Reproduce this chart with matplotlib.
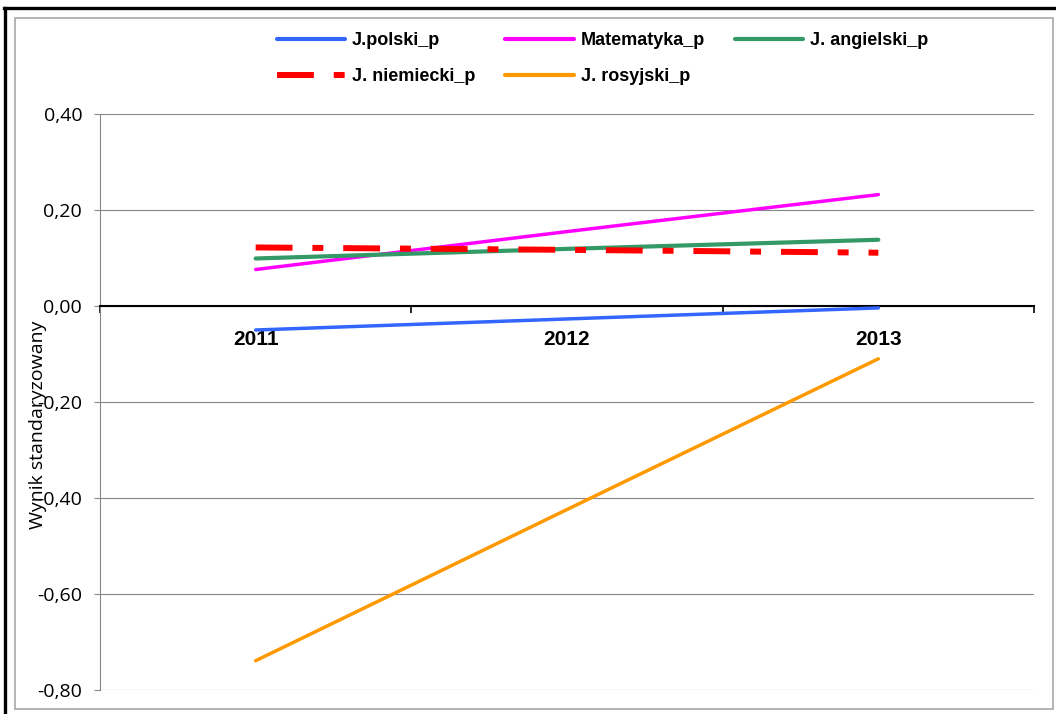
import numpy as np
import matplotlib
matplotlib.use("Agg")
import matplotlib.pyplot as plt
from matplotlib.ticker import FuncFormatter, FixedLocator
from matplotlib.lines import Line2D
from matplotlib.patches import Rectangle

years = ["2011", "2012", "2013"]
polski = [-0.050, -0.027, -0.004]
matematyka = [0.076, 0.155, 0.232]
angielski = [0.099, 0.119, 0.138]
niemiecki = [0.122, 0.117, 0.111]
rosyjski = [-0.739, -0.424, -0.110]
y_ticks = [-0.8, -0.6, -0.4, -0.2, 0.0, 0.2, 0.4]
y_label = "Wynik standaryzowany"

W, H = 1056, 714
fig = plt.figure(figsize=(W / 100, H / 100), dpi=100, facecolor="white")
ax = fig.add_axes([100 / W, 1 - 690 / H, 934 / W, 576 / H])

x = np.arange(len(years))
lw = 2.5
h_pol, = ax.plot(x, polski, color="#3366FF", lw=lw, label="J.polski_p", solid_capstyle="round", zorder=4)
h_mat, = ax.plot(x, matematyka, color="#FF00FF", lw=lw, label="Matematyka_p", solid_capstyle="round", zorder=4)
h_ang, = ax.plot(x, angielski, color="#339966", lw=lw + 0.5, label="J. angielski_p", solid_capstyle="round", zorder=4)
h_nie, = ax.plot(x, niemiecki, color="#FF0000", lw=4.3, label="J. niemiecki_p",
                 dash_capstyle="butt", zorder=5)
h_nie.set_dashes([6.17, 3.33, 1.83, 3.33])
h_ros, = ax.plot(x, rosyjski, color="#FF9900", lw=lw, label="J. rosyjski_p", solid_capstyle="round", zorder=4)

ax.set_xlim(-0.5, 2.5)
ax.set_ylim(-0.8, 0.4)

# y axis
ax.yaxis.set_major_locator(FixedLocator(y_ticks))
ax.yaxis.set_major_formatter(FuncFormatter(lambda v, p: ("%.2f" % (0.0 if abs(v) < 1e-9 else v)).replace(".", ",")))
ax.tick_params(axis="y", length=4.3, width=0.8, color="#868686", pad=8.5, labelsize=14,
               labelfontfamily="Open Sans")
ax.yaxis.grid(True, color="#868686", lw=0.8)
ax.set_axisbelow(True)

# x axis at zero
ax.spines["top"].set_visible(False)
ax.spines["right"].set_visible(False)
ax.spines["left"].set_color("#868686")
ax.spines["left"].set_linewidth(0.8)
ax.spines["bottom"].set_position(("data", 0))
ax.spines["bottom"].set_color("black")
ax.spines["bottom"].set_linewidth(1.5)
ax.set_xticks(x)
ax.set_xticklabels(years, fontsize=15, fontweight="bold", fontfamily="Liberation Sans")
ax.set_xticks([-0.5, 0.5, 1.5, 2.5], minor=True)
ax.tick_params(axis="x", which="major", length=0, pad=17)
ax.tick_params(axis="x", which="minor", length=5, width=1.2, color="black", direction="out")

ax.set_ylabel(y_label, fontsize=14, fontfamily="Open Sans")
ax.yaxis.set_label_coords((38 - 100) / 934, (690 - 425) / 576)
ax.yaxis.label.set_va("center")

leg = ax.legend(handles=[h_pol, h_nie, h_mat, h_ros, h_ang], ncol=3, loc="upper left",
                bbox_to_anchor=(277 / W, 1 - 32 / H), bbox_transform=fig.transFigure,
                frameon=False, prop={"family": "Liberation Sans", "weight": "bold", "size": 13},
                handlelength=3.77, handletextpad=0.39, columnspacing=1.66,
                labelspacing=1.05, borderpad=0, borderaxespad=0)
for lh in leg.get_lines():
    if lh.get_label() != "J. niemiecki_p":
        lh.set_linewidth(3.0)

# borders
fig.add_artist(Rectangle((15 / W, 1 - 709 / H), (1053 - 15) / W, (709 - 18) / H,
                         transform=fig.transFigure, fill=False, ec="#a8a8a8", lw=1.2))
fig.add_artist(Line2D([4 / W, 1], [1 - 8 / H, 1 - 8 / H], transform=fig.transFigure, color="black", lw=2.4))
fig.add_artist(Line2D([5 / W, 5 / W], [1 - 8 / H, 0], transform=fig.transFigure, color="black", lw=2.4))

fig.savefig("out.png", dpi=100, facecolor="white")
